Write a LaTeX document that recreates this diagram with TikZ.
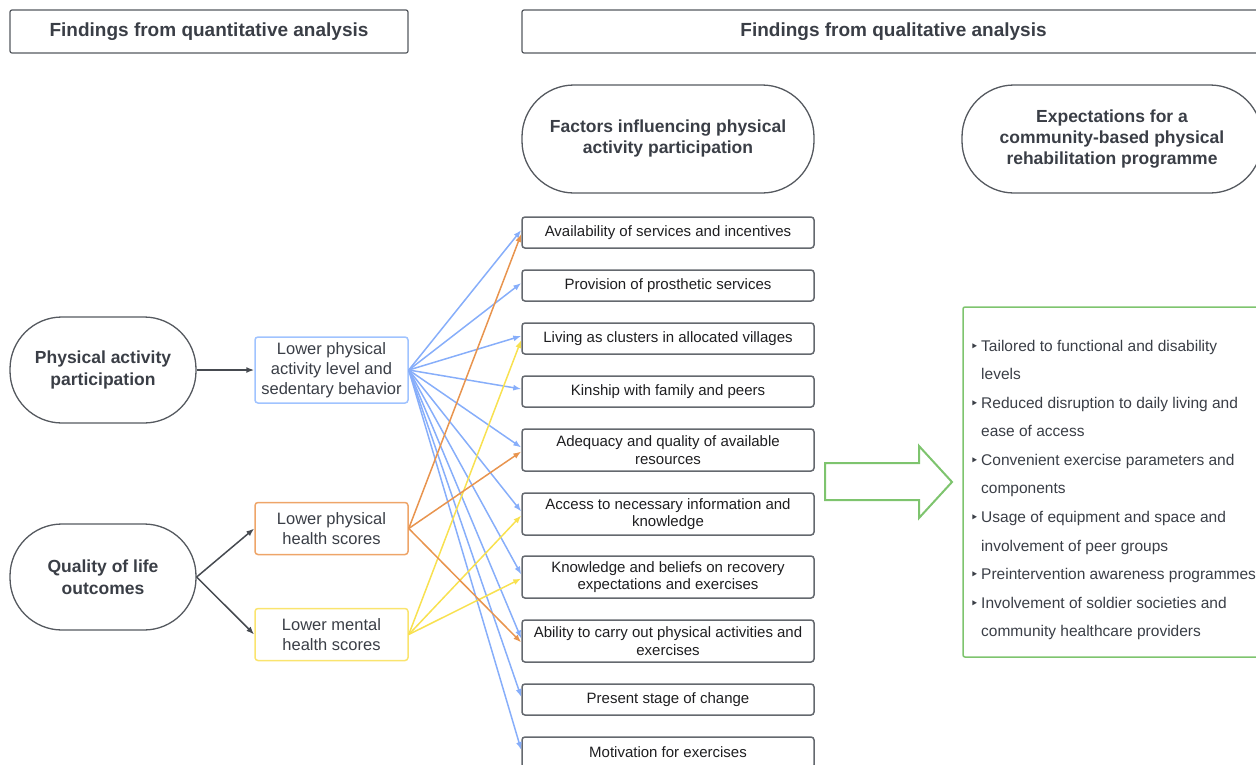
\documentclass[tikz,border=0pt]{standalone}
\usepackage{fontspec}
\setmainfont{Liberation Sans}
\newfontfamily\djv{DejaVu Sans}
\usetikzlibrary{arrows.meta}
\definecolor{txt}{RGB}{58,62,70}
\definecolor{ftxt}{RGB}{30,30,32}
\definecolor{bordergray}{RGB}{85,89,95}
\definecolor{boxgray}{RGB}{100,104,110}
\definecolor{dk}{RGB}{70,74,80}
\definecolor{bl}{RGB}{135,174,250}
\definecolor{blb}{RGB}{160,195,255}
\definecolor{org}{RGB}{232,148,78}
\definecolor{orgb}{RGB}{238,165,105}
\definecolor{yel}{RGB}{248,225,80}
\definecolor{yelb}{RGB}{250,228,110}
\definecolor{grn}{RGB}{126,196,110}
\tikzset{
  hdr/.style={draw=bordergray, line width=1.2pt, rounded corners=2pt, text=txt,
    font=\fontsize{19}{22}\selectfont\bfseries, inner sep=0pt, minimum height=43pt},
  stad/.style={draw=bordergray, line width=1.3pt, rounded corners=52pt, text=txt,
    font=\fontsize{17.5}{21}\selectfont\bfseries, align=center, inner sep=0pt},
  factor/.style={draw=boxgray, line width=1.5pt, rounded corners=3pt, minimum width=292pt,
    text=ftxt, font=\fontsize{15}{17.5}\selectfont, align=center, inner sep=0pt},
  mid/.style={line width=1.5pt, rounded corners=3pt, minimum width=153pt, text=txt,
    font=\fontsize{16.5}{20}\selectfont, align=center, inner sep=0pt},
  conn/.style={line width=1.5pt, -{Latex[length=8pt,width=6pt]}},
  item/.style={anchor=west, inner sep=0pt, text=txt, font=\fontsize{15.5}{18}\selectfont,
    text height=11pt, text depth=3pt}
}
\newcommand{\bul}{\llap{{\djv\fontsize{14}{14}\selectfont ‣}\hspace{2.5pt}}}
\begin{document}
\begin{tikzpicture}[x=1pt,y=-1pt]
\clip (0,0) rectangle (1256,764);
\useasboundingbox (0,0) rectangle (1256,764);
% headers
\node[hdr, minimum width=398pt] (hl) at (209,31.5) {Findings from quantitative analysis};
\node[hdr, minimum width=743pt] (hr) at (893.5,31.5) {Findings from qualitative analysis};
% top stadiums
\node[stad, minimum width=292pt, minimum height=108pt] (fs) at (668,139) {\raisebox{2pt}{\begin{tabular}{@{}c@{}}Factors influencing physical\\activity participation\end{tabular}}};
\node[stad, minimum width=300pt, minimum height=108pt] (es) at (1112,139) {\raisebox{2pt}{\begin{tabular}{@{}c@{}}Expectations for a\\community-based physical\\rehabilitation programme\end{tabular}}};
% left stadiums
\node[stad, minimum width=186pt, minimum height=106pt, font=\fontsize{17.5}{22}\selectfont\bfseries] (pa) at (103,370) {Physical activity\\participation};
\node[stad, minimum width=186pt, minimum height=106pt, font=\fontsize{17.5}{22}\selectfont\bfseries] (qol) at (103,577) {Quality of life\\outcomes};
% middle boxes
\node[mid, draw=blb, minimum height=66pt] (mb) at (331.5,370) {Lower physical\\activity level and\\sedentary behavior};
\node[mid, draw=orgb, minimum height=52pt] (mo) at (331.5,528.5) {Lower physical\\health scores};
\node[mid, draw=yelb, minimum height=52pt] (my) at (331.5,634.5) {Lower mental\\health scores};
% factor boxes
\node[factor, minimum height=31pt] (f1) at (668,232.5) {Availability of services and incentives};
\node[factor, minimum height=31pt] (f2) at (668,285.5) {Provision of prosthetic services};
\node[factor, minimum height=31pt] (f3) at (668,338.5) {Living as clusters in allocated villages};
\node[factor, minimum height=31pt] (f4) at (668,391.5) {Kinship with family and peers};
\node[factor, minimum height=42pt] (f5) at (668,450) {Adequacy and quality of available\\resources};
\node[factor, minimum height=42pt] (f6) at (668,514) {Access to necessary information and\\knowledge};
\node[factor, minimum height=42pt] (f7) at (668,577) {Knowledge and beliefs on recovery\\expectations and exercises};
\node[factor, minimum height=42pt] (f8) at (668,641) {Ability to carry out physical activities and\\exercises};
\node[factor, minimum height=31pt] (f9) at (668,699.5) {Present stage of change};
\node[factor, minimum height=31pt] (f10) at (668,752.5) {Motivation for exercises};
% connectors
\draw[conn, dk] (pa.east) -- (mb.west);
\draw[conn, dk] (qol.east) -- (mo.west);
\draw[conn, dk] (qol.east) -- (my.west);
\foreach \i in {1,...,10} \draw[conn, bl] (mb.east) -- ([yshift=2.5pt]f\i.west);
\foreach \i in {3,6,7} \draw[conn, yel] (my.east) -- ([yshift=-1.5pt]f\i.west);
\foreach \i in {1,5,8} \draw[conn, org] (mo.east) -- ([yshift=-1.5pt]f\i.west);
% big arrow
\draw[grn, line width=2pt, line join=miter] (825,463) -- (919,463) -- (919,446) -- (952,482) -- (919,518) -- (919,500) -- (825,500) -- cycle;
% expectations box
\node[draw=grn, line width=1.5pt, rounded corners=2pt, minimum width=307pt, minimum height=350pt, inner sep=0pt] (gb) at (1116.5,482) {};
\foreach \y/\t [count=\k] in {
  347/\bul Tailored to functional and disability,
  375.5/levels,
  404/\bul Reduced disruption to daily living and,
  432.5/ease of access,
  461/\bul Convenient exercise parameters and,
  489.5/components,
  518/\bul Usage of equipment and space and,
  547/involvement of peer groups,
  575.5/\bul Preintervention awareness programmes,
  604/\bul Involvement of soldier societies and,
  632.5/community healthcare providers}
  \node[item] (l\k) at (981,\y) {\t};
\end{tikzpicture}
\end{document}
